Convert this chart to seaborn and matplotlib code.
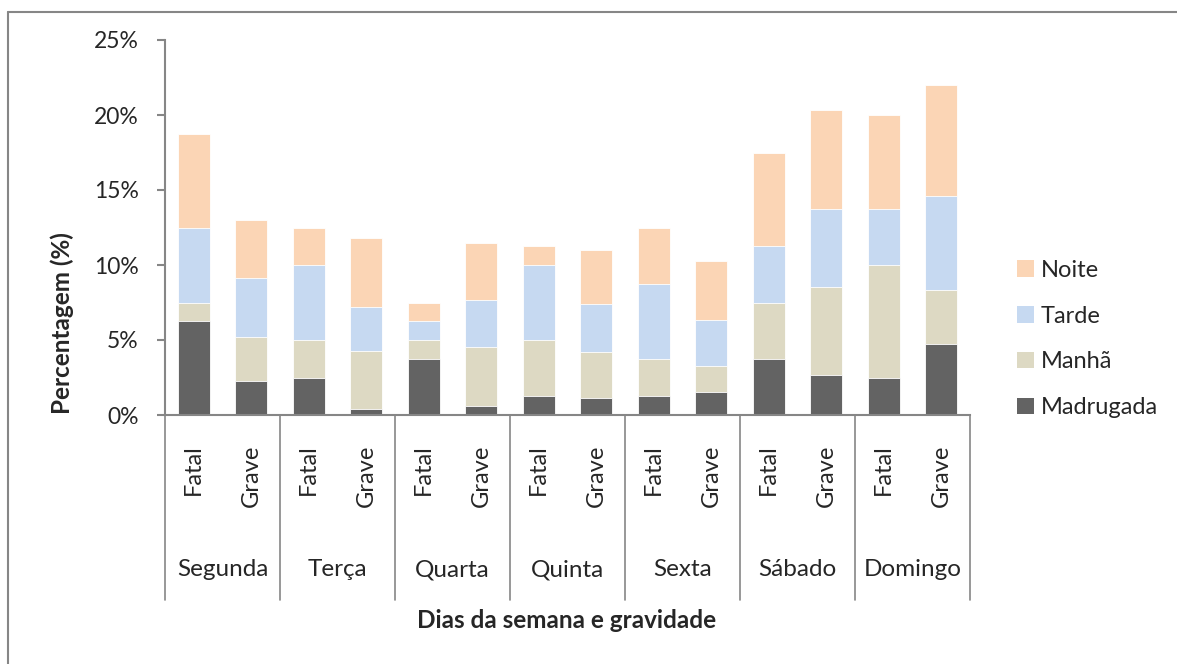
import matplotlib
matplotlib.use("Agg")
import matplotlib.pyplot as plt
import matplotlib.transforms as mtransforms
from matplotlib.lines import Line2D
from matplotlib.patches import Patch
from matplotlib.ticker import PercentFormatter
import numpy as np
import pandas as pd
import seaborn as sns

# data (percent), one value per bar: Fatal/Grave for each weekday
days = ["Segunda", "Terça", "Quarta", "Quinta", "Sexta", "Sábado", "Domingo"]
severity = ["Fatal", "Grave"]
periods = ["Madrugada", "Manhã", "Tarde", "Noite"]

madrugada = [6.25, 2.27, 2.50, 0.40, 3.75, 0.58, 1.25, 1.11, 1.25, 1.51, 3.75, 2.65, 2.50, 4.72]
manha = [1.25, 2.96, 2.50, 3.90, 1.25, 3.94, 3.75, 3.07, 2.50, 1.76, 3.75, 5.91, 7.50, 3.60]
tarde = [5.00, 3.89, 5.00, 2.88, 1.25, 3.18, 5.00, 3.20, 5.00, 3.07, 3.75, 5.18, 3.75, 6.27]
noite = [6.25, 3.91, 2.50, 4.62, 1.25, 3.80, 1.25, 3.61, 3.75, 3.91, 6.25, 6.61, 6.25, 7.41]

colors = {"Madrugada": "#636363", "Manhã": "#DDD9C3", "Tarde": "#C6D9F1", "Noite": "#FBD5B5"}

sns.set_theme(style="white")
plt.rcParams["font.family"] = ["Lato", "DejaVu Sans"]

bar_ids = [f"{d}|{s}" for d in days for s in severity]
df = pd.DataFrame({"bar": bar_ids, "Madrugada": madrugada, "Manhã": manha,
                   "Tarde": tarde, "Noite": noite})
cum = df[periods].cumsum(axis=1)

fig = plt.figure(figsize=(11.77, 6.64), dpi=100)
ax = fig.add_axes([165 / 1177, 1 - 415 / 664, 805 / 1177, 375 / 664])

# stacked bars: draw cumulative totals from the top segment down
for p in reversed(periods):
    sns.barplot(x=df["bar"], y=cum[p], color=colors[p], width=0.56,
                edgecolor="white", linewidth=0.6, saturation=1, ax=ax)

grey = "#868686"
ax.set_xlim(-0.5, len(bar_ids) - 0.5)
ax.set_ylim(0, 25)
ax.set_yticks([0, 5, 10, 15, 20, 25])
ax.yaxis.set_major_formatter(PercentFormatter(xmax=100, decimals=0))
ax.set_xticks(range(len(bar_ids)))
ax.set_xticklabels([s for d in days for s in severity], rotation=90)
ax.set_xlabel("")
ax.set_ylabel("")
for side in ["top", "right"]:
    ax.spines[side].set_visible(False)
for side in ["left", "bottom"]:
    ax.spines[side].set_color(grey)
    ax.spines[side].set_linewidth(1.5)
ax.tick_params(axis="y", direction="out", length=6, width=1.5, color=grey,
               labelsize=16.5, pad=13, left=True)
ax.tick_params(axis="x", length=0, labelsize=17, pad=21)

# group separators and weekday names
trans = mtransforms.blended_transform_factory(ax.transData, ax.transAxes)
for k in range(len(days) + 1):
    ax.plot([2 * k - 0.5, 2 * k - 0.5], [0, -0.493], color=grey, lw=1.2,
            transform=trans, clip_on=False)
for k, d in enumerate(days):
    ax.text(2 * k + 0.5, -0.413, d, transform=trans, ha="center", va="center",
            fontsize=17.5)

fig.text(567 / 1177, 1 - 620 / 664, "Dias da semana e gravidade", ha="center",
         va="center", fontsize=17.5, fontweight="bold")
fig.text(62 / 1177, 1 - 323 / 664, "Percentagem (%)", ha="center", va="center",
         rotation=90, fontsize=17.5, fontweight="bold")

handles = [Patch(facecolor=colors[p], edgecolor="none") for p in reversed(periods)]
fig.legend(handles, list(reversed(periods)), loc="center left",
           bbox_to_anchor=(1008 / 1177, 1 - 339 / 664), frameon=False,
           fontsize=17, handlelength=0.7, handleheight=0.7, handletextpad=0.3,
           labelspacing=1.05, borderaxespad=0)

# chart border (only top and left edges visible)
fig.add_artist(Line2D([8 / 1177, 8 / 1177], [0, 1 - 12 / 664], color=grey, lw=1.5,
                      transform=fig.transFigure))
fig.add_artist(Line2D([8 / 1177, 1], [1 - 12 / 664, 1 - 12 / 664], color=grey, lw=1.5,
                      transform=fig.transFigure))

fig.savefig("out.png", dpi=100)
plt.close(fig)
